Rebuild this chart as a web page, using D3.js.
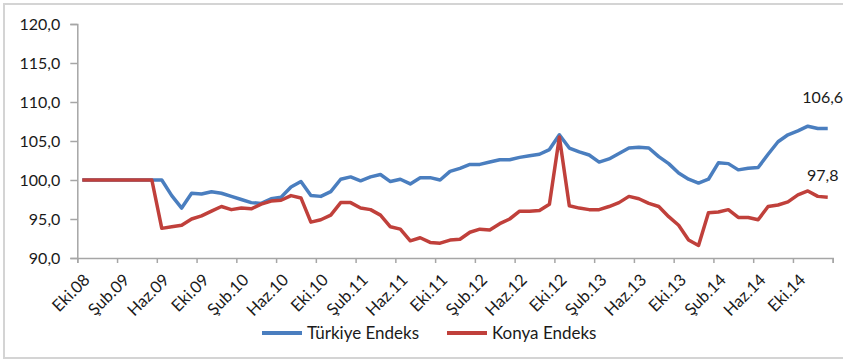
<!DOCTYPE html>
<html>
<head>
<meta charset="utf-8">
<script src="https://cdn.jsdelivr.net/npm/d3@7"></script>
<style>
  body { margin: 0; background: #fff; }
  svg text { font-family: Lato, "Open Sans", sans-serif; fill: #1a1a1a; }
</style>
</head>
<body>
<div id="chart"></div>
<script>
const W = 843, H = 364;

// month names, first month of the series is Eki.08
const monthNames = ['Oca', 'Şub', 'Mar', 'Nis', 'May', 'Haz', 'Tem', 'Ağu', 'Eyl', 'Eki', 'Kas', 'Ara'];
const startYear = 2008, startMonth = 9;

const turkiye = [
  100, 100, 100, 100, 100, 100, 100, 100, 100, 98.0,
  96.4, 98.3, 98.2, 98.5, 98.3, 97.9, 97.5, 97.1, 97.0, 97.6,
  97.8, 99.1, 99.8, 98.0, 97.9, 98.5, 100.1, 100.4, 99.9, 100.4,
  100.7, 99.8, 100.1, 99.5, 100.3, 100.3, 100.0, 101.1, 101.5, 102.0,
  102.0, 102.3, 102.6, 102.6, 102.9, 103.1, 103.3, 103.9, 105.8, 104.1,
  103.6, 103.2, 102.3, 102.7, 103.4, 104.1, 104.2, 104.1, 103.0, 102.1,
  100.9, 100.1, 99.6, 100.1, 102.2, 102.1, 101.3, 101.5, 101.6, 103.3,
  104.9, 105.8, 106.3, 106.9, 106.6, 106.6
];

const konya = [
  100, 100, 100, 100, 100, 100, 100, 100, 93.8, 94.0,
  94.2, 95.0, 95.4, 96.0, 96.6, 96.2, 96.4, 96.3, 96.9, 97.3,
  97.4, 98.0, 97.7, 94.6, 94.9, 95.5, 97.1, 97.1, 96.4, 96.2,
  95.5, 94.0, 93.7, 92.2, 92.6, 92.0, 91.9, 92.3, 92.4, 93.3,
  93.7, 93.6, 94.4, 95.0, 96.0, 96.0, 96.1, 96.9, 105.5, 96.7,
  96.4, 96.2, 96.2, 96.6, 97.1, 97.9, 97.6, 97.0, 96.6, 95.3,
  94.2, 92.3, 91.6, 95.8, 95.9, 96.2, 95.2, 95.2, 94.9, 96.6,
  96.8, 97.2, 98.1, 98.6, 97.9, 97.8
];

const yTicks = [90, 95, 100, 105, 110, 115, 120];
const seriesNames = ['Türkiye Endeks', 'Konya Endeks'];
const colors = ['#4a7ebf', '#c0403b'];

const cats = turkiye.map((d, i) => {
  const m = (startMonth + i) % 12;
  const yr = startYear + Math.floor((startMonth + i) / 12);
  return monthNames[m] + '.' + String(yr).slice(2);
});

const svg = d3.select('#chart').append('svg')
  .attr('width', W)
  .attr('height', H);

// outer frame
svg.append('rect')
  .attr('x', 4).attr('y', 4)
  .attr('width', W + 4).attr('height', 354)
  .attr('fill', 'none')
  .attr('stroke', '#d4d4d4')
  .attr('stroke-width', 2);

const x = d3.scaleLinear().domain([0, cats.length]).range([77.3, 832.7]);
const y = d3.scaleLinear().domain([90, 120]).range([258, 24]);

const axisColor = '#a6a6a6';

// y axis
const yAxis = svg.append('g')
  .attr('transform', `translate(${x(0)},0)`)
  .call(d3.axisLeft(y).tickValues(yTicks).tickSize(7).tickPadding(10)
    .tickFormat(d => d.toFixed(1).replace('.', ',')));
yAxis.selectAll('text').style('font-size', '16px');

// x axis, ticks on category boundaries every 4 months
const xAxis = svg.append('g')
  .attr('transform', `translate(0,${y(90)})`)
  .call(d3.axisBottom(x).tickValues(d3.range(0, cats.length + 1, 4)).tickSize(5)
    .tickFormat(d => d < cats.length ? cats[d] : ''));
xAxis.selectAll('text')
  .style('font-size', '16.5px')
  .attr('text-anchor', 'end')
  .attr('y', 0)
  .attr('dy', 0)
  .attr('transform', 'translate(13,23) rotate(-45)');

svg.selectAll('.domain, .tick line')
  .attr('stroke', axisColor)
  .attr('stroke-width', 1.5);

const line = d3.line()
  .x((d, i) => x(i + 0.5))
  .y(d => y(d));

[turkiye, konya].forEach((s, k) => {
  svg.append('path')
    .datum(s)
    .attr('fill', 'none')
    .attr('stroke', colors[k])
    .attr('stroke-width', 3.5)
    .attr('stroke-linejoin', 'round')
    .attr('d', line);
});

// end value labels
const last = cats.length - 1;
[[turkiye, 26], [konya, 16]].forEach(([s, off]) => {
  svg.append('text')
    .attr('x', x(last + 0.5) - 5)
    .attr('y', y(s[last]) - off)
    .attr('text-anchor', 'middle')
    .style('font-size', '16px')
    .text(s[last].toFixed(1).replace('.', ','));
});

// legend
const legend = svg.append('g').attr('transform', 'translate(262,333)');
seriesNames.forEach((n, k) => {
  const g = legend.append('g').attr('transform', `translate(${k * 185},0)`);
  g.append('line')
    .attr('x1', 0).attr('x2', 40)
    .attr('stroke', colors[k])
    .attr('stroke-width', 4);
  g.append('text')
    .attr('x', 45)
    .attr('dy', '0.35em')
    .style('font-size', '17px')
    .text(n);
});
</script>
</body>
</html>
